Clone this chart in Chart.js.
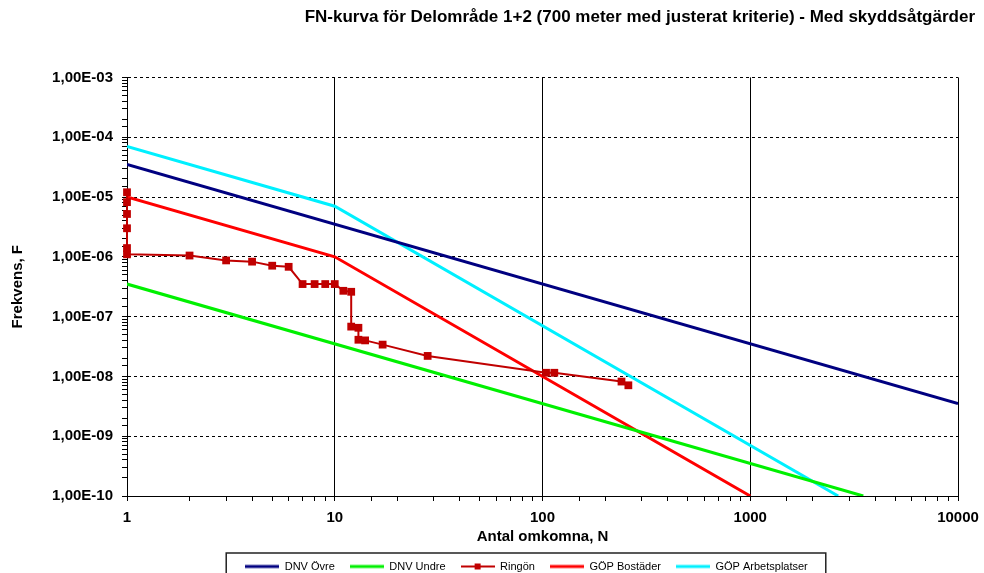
<!DOCTYPE html>
<html lang="sv">
<head>
  <meta charset="UTF-8" />
  <title>FN-kurva</title>
  <script src="https://cdn.jsdelivr.net/npm/chart.js"></script>
  <style>
    body {
      margin: 0;
      background-color: #fff;
    }
    canvas {
      display: block;
    }
  </style>
</head>
<body>
  <canvas id="fnChart" width="984" height="573"></canvas>

  <script>
    const dnvOvreN = [1, 10000];
    const dnvOvreF = [3.5e-5, 3.5e-9];
    const dnvUndreN = [1, 3500];
    const dnvUndreF = [3.5e-7, 1e-10];
    const ringonN = [1, 1, 1, 1, 1, 1, 2, 3, 4, 5, 6, 7, 8, 9, 10, 11, 12, 12, 13, 13, 14, 17, 28, 104, 114, 240, 259];
    const ringonF = [1.2e-5, 8.2e-6, 5.2e-6, 3.0e-6, 1.4e-6, 1.1e-6, 1.05e-6, 8.7e-7, 8.3e-7, 7.1e-7, 6.8e-7,
                     3.5e-7, 3.5e-7, 3.5e-7, 3.5e-7, 2.7e-7, 2.6e-7, 6.8e-8, 6.5e-8, 4.1e-8, 4.0e-8, 3.4e-8,
                     2.2e-8, 1.15e-8, 1.15e-8, 8.2e-9, 7.1e-9];
    const gopBostaderN = [1, 10, 1000];
    const gopBostaderF = [1e-5, 1e-6, 1e-10];
    const gopArbetsN = [1, 10, 2650];
    const gopArbetsF = [7e-5, 7e-6, 1e-10];

    const xMin = 1, xMax = 10000;
    const yMin = 1e-10, yMax = 1e-3;

    const FONT = "'Liberation Sans', Arial, sans-serif";

    const toPoints = (xs, ys) => xs.map((x, i) => ({ x: x, y: ys[i] }));
    const isDecade = v => Math.abs(Math.log10(v) - Math.round(Math.log10(v))) < 1e-6;

    function yLabel(v) {
      const e = Math.round(Math.log10(v));
      return "1,00E" + (e < 0 ? "-" : "+") + String(Math.abs(e)).padStart(2, "0");
    }

    // små linjeprover till förklaringen
    function legendSample(color, width, marker) {
      const c = document.createElement("canvas");
      c.width = 34;
      c.height = 8;
      const g = c.getContext("2d");
      g.strokeStyle = color;
      g.lineWidth = width;
      g.beginPath();
      g.moveTo(0, 4);
      g.lineTo(34, 4);
      g.stroke();
      if (marker) {
        g.fillStyle = color;
        g.fillRect(14, 1, 6, 6);
      }
      return c;
    }

    const datasets = [
      { label: "DNV Övre", data: toPoints(dnvOvreN, dnvOvreF), borderColor: "#000080", borderWidth: 3 },
      { label: "DNV Undre", data: toPoints(dnvUndreN, dnvUndreF), borderColor: "#00f000", borderWidth: 3 },
      { label: "Ringön", data: toPoints(ringonN, ringonF), borderColor: "#c00000", backgroundColor: "#c00000",
        borderWidth: 2, pointStyle: "rect", pointRadius: 5.5, pointBorderWidth: 0, clip: false },
      { label: "GÖP Bostäder", data: toPoints(gopBostaderN, gopBostaderF), borderColor: "#ff0000", borderWidth: 3 },
      { label: "GÖP Arbetsplatser", data: toPoints(gopArbetsN, gopArbetsF), borderColor: "#00f0ff", borderWidth: 3 }
    ];
    datasets.forEach(d => {
      d.fill = false;
      d.tension = 0;
      if (d.pointRadius === undefined) d.pointRadius = 0;
    });

    const samples = datasets.map(d => legendSample(d.borderColor, d.borderWidth, d.pointRadius > 0));

    // flytta förklaringen och rita ramen runt den
    const legendBox = {
      id: "legendBox",
      afterLayout(chart) {
        const lg = chart.legend;
        lg.left += 39;
        lg.right += 39;
      },
      afterDraw(chart) {
        const lg = chart.legend;
        const pad = lg.options.labels.padding;
        const rowW = lg.lineWidths[0] - pad;
        const startX = (lg.left + pad + lg.right - lg.lineWidths[0]) / 2;
        const ctx = chart.ctx;
        ctx.save();
        ctx.strokeStyle = "#222";
        ctx.lineWidth = 1.5;
        ctx.strokeRect(startX - 19, lg.top + 7, rowW + 37, 40);
        ctx.restore();
      }
    };

    const chart = new Chart(document.getElementById("fnChart"), {
      type: "line",
      data: { datasets: datasets },
      options: {
        responsive: false,
        animation: false,
        layout: { padding: { left: 0, right: 9, top: 0, bottom: 0 } },
        scales: {
          x: {
            type: "logarithmic",
            position: "bottom",
            min: xMin,
            max: xMax,
            afterFit: s => { s.height = 50; s.paddingRight = 26; },
            ticks: {
              autoSkip: false,
              maxRotation: 0,
              padding: 8,
              color: "#000",
              font: { family: FONT, size: 15, weight: "bold" },
              callback: v => isDecade(v) ? String(Math.round(v)) : ""
            },
            grid: {
              color: c => c.tick && isDecade(c.tick.value) ? "#000" : "rgba(0,0,0,0)",
              tickColor: "#000",
              tickLength: 5,
              lineWidth: 1
            },
            border: { color: "#000", width: 1 },
            title: {
              display: true,
              text: "Antal omkomna, N",
              color: "#000",
              padding: { top: 0, bottom: 0 },
              font: { family: FONT, size: 15, weight: "bold" }
            }
          },
          y: {
            type: "logarithmic",
            min: yMin,
            max: yMax,
            afterFit: s => { s.width = 127; },
            ticks: {
              autoSkip: false,
              padding: 9,
              color: "#000",
              font: { family: FONT, size: 15, weight: "bold" },
              callback: v => isDecade(v) ? yLabel(v) : ""
            },
            grid: {
              color: c => c.tick && isDecade(c.tick.value) ? "#000" : "rgba(0,0,0,0)",
              tickColor: "#000",
              tickLength: 5,
              lineWidth: 1
            },
            border: { color: "#000", width: 1, dash: [3, 3] },
            title: {
              display: true,
              text: "Frekvens, F",
              color: "#000",
              padding: { top: 9, bottom: 0 },
              font: { family: FONT, size: 15, weight: "bold" }
            }
          }
        },
        plugins: {
          tooltip: { enabled: false },
          title: {
            display: true,
            align: "end",
            text: "FN-kurva för Delområde 1+2 (700 meter med justerat kriterie) - Med skyddsåtgärder",
            color: "#000",
            padding: { top: 7, bottom: 50 },
            font: { family: FONT, size: 17, weight: "bold" }
          },
          legend: {
            position: "bottom",
            maxHeight: 27,
            labels: {
              color: "#000",
              font: { family: FONT, size: 11 },
              padding: 15,
              usePointStyle: true,
              pointStyleWidth: 34,
              generateLabels: ch => {
                const items = Chart.defaults.plugins.legend.labels.generateLabels(ch);
                items.forEach((it, i) => { it.pointStyle = samples[i]; });
                return items;
              }
            }
          }
        }
      },
      plugins: [legendBox]
    });
  </script>
</body>
</html>
